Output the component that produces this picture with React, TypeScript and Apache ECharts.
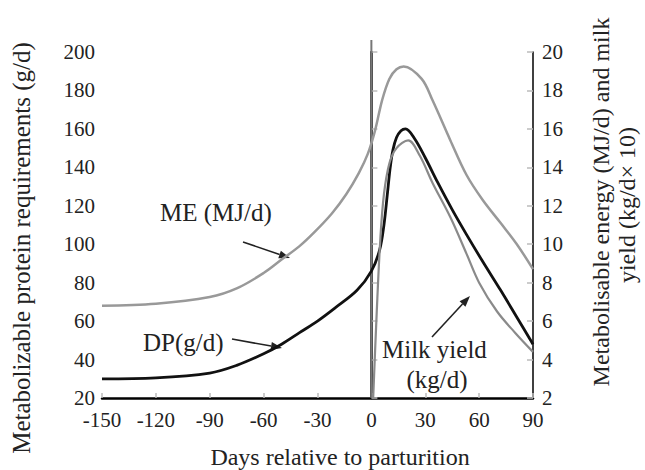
import React, { useEffect, useRef } from "react";
import * as echarts from "echarts";

// X axis ticks (days relative to parturition)
const xTicks = [-150, -120, -90, -60, -30, 0, 30, 60, 90];

// Parturition reference day
const parturitionDay = 0;

// ME (MJ/d) — right axis
const meDays = [-150, -120, -90, -75, -60, -50, -40, -32, -22, -14, -7, -2, 2, 6, 10, 14, 18, 28, 34, 44, 53, 62, 72, 81, 90];
const meValues = [6.8, 6.9, 7.25, 7.7, 8.5, 9.2, 9.9, 10.6, 11.6, 12.6, 13.7, 14.7, 15.9, 17.5, 18.6, 19.1, 19.25, 18.6, 17.5, 15.4, 13.6, 12.3, 11.1, 10.0, 8.7];

// DP (g/d) — left axis
const dpDays = [-150, -120, -90, -75, -60, -50, -40, -30, -20, -8, 0, 4.6, 7, 9, 10.5, 12, 14, 16.5, 19, 24, 30, 37, 45, 53, 62, 72, 81, 90];
const dpValues = [30, 30.5, 33, 37, 43, 48, 54, 60, 67, 76, 86, 97, 110, 127, 140, 149, 155.5, 159, 160, 155, 145, 132, 118, 105, 91, 76, 62, 48];

// Milk yield — right axis
const milkDays = [1, 3, 5, 7, 10, 14, 20.5, 27, 34, 44, 53, 60, 70, 80, 90];
const milkValues = [2.0, 6.5, 10.3, 12.6, 14.2, 15.0, 15.4, 14.6, 13.2, 11.4, 9.5, 8.0, 6.5, 5.4, 4.4];

const FONT = "'Liberation Serif', 'Times New Roman', serif";

function zip(xs: number[], ys: number[]) {
  return xs.map((x, i) => [x, ys[i]]);
}

function arrow(x1: number, y1: number, x2: number, y2: number, color: string) {
  const ang = Math.atan2(y2 - y1, x2 - x1);
  const len = 11;
  const w = 4;
  const bx = x2 - len * Math.cos(ang);
  const by = y2 - len * Math.sin(ang);
  const px = -Math.sin(ang) * w;
  const py = Math.cos(ang) * w;
  return [
    { type: "line", shape: { x1, y1, x2: bx, y2: by }, style: { stroke: color, lineWidth: 1.6 } },
    {
      type: "polygon",
      shape: { points: [[x2, y2], [bx + px, by + py], [bx - px, by - py]] },
      style: { fill: color },
    },
  ];
}

export default function App() {
  const ref = useRef<HTMLDivElement>(null);
  useEffect(() => {
    document.body.style.margin = "0";
    if (!ref.current) return;
    const chart = echarts.init(ref.current, null, { renderer: "svg" });
    const tickLabel = { fontFamily: FONT, fontSize: 21, color: "#222" };
    const txt = (size: number) => ({ fontFamily: FONT, fontSize: size, fill: "#222" });
    chart.setOption({
      animation: false,
      backgroundColor: "#fff",
      grid: { left: 102, right: 112, top: 52, bottom: 72 },
      xAxis: {
        type: "value",
        min: -150,
        max: 90,
        interval: 30,
        axisLine: { lineStyle: { color: "#000", width: 2.5 } },
        axisTick: { inside: true, length: 5, lineStyle: { color: "#bbb", width: 1.5 } },
        axisLabel: { ...tickLabel, margin: 11, formatter: (v: number) => (xTicks.includes(v) ? String(v) : "") },
        splitLine: { show: false },
      },
      yAxis: [
        {
          type: "value",
          min: 20,
          max: 200,
          interval: 20,
          axisLine: { show: true, lineStyle: { color: "#000", width: 2.5 } },
          axisTick: { show: true, inside: true, length: 6, lineStyle: { color: "#bbb", width: 1.5 } },
          axisLabel: { ...tickLabel, margin: 7 },
          splitLine: { show: false },
        },
        {
          type: "value",
          min: 2,
          max: 20,
          interval: 2,
          position: "right",
          axisLine: { show: true, lineStyle: { color: "#000", width: 1.5 } },
          axisTick: { show: true, inside: true, length: 6, lineStyle: { color: "#bbb", width: 1.5 } },
          axisLabel: { ...tickLabel, margin: 9 },
          splitLine: { show: false },
        },
      ],
      series: [
        {
          name: "ME (MJ/d)",
          type: "line",
          yAxisIndex: 1,
          data: zip(meDays, meValues),
          smooth: 0.35,
          showSymbol: false,
          lineStyle: { color: "#999", width: 2.5 },
        },
        {
          name: "DP(g/d)",
          type: "line",
          yAxisIndex: 0,
          data: zip(dpDays, dpValues),
          smooth: 0.35,
          showSymbol: false,
          lineStyle: { color: "#111", width: 2.8 },
        },
        {
          name: "Milk yield (kg/d)",
          type: "line",
          yAxisIndex: 1,
          data: zip(milkDays, milkValues),
          smooth: 0.35,
          showSymbol: false,
          lineStyle: { color: "#8a8a8a", width: 2.2 },
        },
      ],
    });
    const vx = chart.convertToPixel({ xAxisIndex: 0 }, parturitionDay) as number;
    const yTop = chart.convertToPixel({ yAxisIndex: 0 }, 200) as number;
    const yBottom = chart.convertToPixel({ yAxisIndex: 0 }, 20) as number;
    chart.setOption({
      graphic: [
        {
          type: "line",
          z: 1,
          shape: { x1: vx, y1: yTop - 12, x2: vx, y2: yBottom },
          style: { stroke: "#777", lineWidth: 2 },
        },
        {
          type: "text",
          x: 21,
          y: 248,
          rotation: Math.PI / 2,
          style: { text: "Metabolizable protein requirements (g/d)", ...txt(25), align: "center", verticalAlign: "middle" },
        },
        {
          type: "text",
          x: 601,
          y: 202,
          rotation: Math.PI / 2,
          style: { text: "Metabolisable energy (MJ/d) and milk", ...txt(24), align: "center", verticalAlign: "middle" },
        },
        {
          type: "text",
          x: 627,
          y: 205,
          rotation: Math.PI / 2,
          style: { text: "yield (kg/d× 10)", ...txt(24), align: "center", verticalAlign: "middle" },
        },
        {
          type: "text",
          x: 340,
          y: 457,
          style: { text: "Days relative to parturition", ...txt(24), align: "center", verticalAlign: "middle" },
        },
        { type: "text", x: 160, y: 212, style: { text: "ME (MJ/d)", ...txt(25), verticalAlign: "middle" } },
        { type: "text", x: 143, y: 342, style: { text: "DP(g/d)", ...txt(25), verticalAlign: "middle" } },
        { type: "text", x: 382, y: 349, style: { text: "Milk yield", ...txt(25), verticalAlign: "middle" } },
        { type: "text", x: 437, y: 379, style: { text: "(kg/d)", ...txt(25), align: "center", verticalAlign: "middle" } },
        ...arrow(243, 242, 290, 258, "#222"),
        ...arrow(232, 339, 282, 348, "#222"),
        ...arrow(432, 337, 470, 296, "#222"),
      ],
    });
    return () => chart.dispose();
  }, []);
  return <div ref={ref} style={{ width: 645, height: 470 }} />;
}
